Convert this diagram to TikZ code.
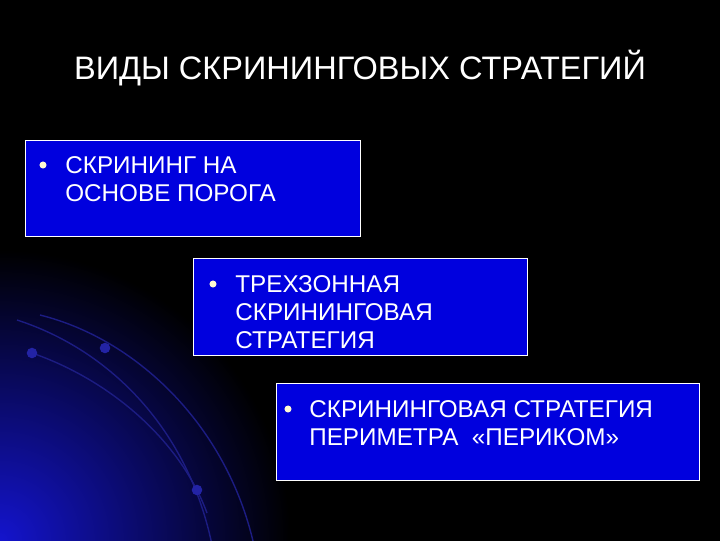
\documentclass[tikz,border=0pt]{standalone}
\usepackage{fontspec}
\setmainfont{Liberation Sans}
\definecolor{boxblue}{RGB}{0,0,222}
\definecolor{glowblue}{RGB}{20,20,205}
\definecolor{swirl}{RGB}{28,28,130}
\definecolor{swirldotcol}{RGB}{35,35,165}
\definecolor{dotcol}{RGB}{255,250,210}
\begin{document}
\begin{tikzpicture}[scale=0.2]
\tikzstyle{every node}+=[inner sep=0pt]
\tikzstyle{box}=[draw=white, line width=0.6pt, fill=boxblue, anchor=north west]
\tikzstyle{item}=[text=white, font=\fontsize{13.8}{15.9}\selectfont, align=left, anchor=base west]
\tikzstyle{bullet}=[circle, fill=dotcol, minimum size=4pt]
\tikzstyle{swirldot}=[circle, fill=swirldotcol, minimum size=6pt]
\useasboundingbox (0,0) rectangle (72,-54);
\fill [black] (-1,1) rectangle (73,-55);
% glow in the lower left corner
\begin{scope}
\clip (-1,1) rectangle (73,-55);
\fill [inner color=glowblue, outer color=black] (0,-54) circle (29);
\draw [swirl, line width=0.8pt] (4,-31.5) .. controls (14,-34) and (23,-43) .. (25.5,-55);
\draw [swirl, line width=0.8pt] (1.7,-32) .. controls (11,-35) and (19,-43) .. (21.3,-55);
\draw [swirl, line width=0.8pt] (3.2,-35.3) .. controls (11,-38) and (18,-44) .. (20.7,-51.3);
\end{scope}
\node [swirldot] (s1) at (3.2,-35.3) {};
\node [swirldot] (s2) at (10.5,-34.8) {};
\node [swirldot] (s3) at (19.7,-49) {};
% title
\node [text=white, font=\fontsize{18.5}{21}\selectfont, anchor=base] (title) at (36,-7.9) {ВИДЫ СКРИНИНГОВЫХ СТРАТЕГИЙ};
% boxes
\node [box, minimum width=6.7cm, minimum height=1.92cm] (porog) at (2.5,-14) {};
\node [bullet] (b1) at (4.3,-16.5) {};
\node [item] (t1) at (6.5,-20.1) {СКРИНИНГ НА\\ОСНОВЕ ПОРОГА};
\node [box, minimum width=6.68cm, minimum height=1.94cm] (trizone) at (19.3,-25.8) {};
\node [bullet] (b2) at (21.3,-28.4) {};
\node [item] (t2) at (23.5,-34.8) {ТРЕХЗОННАЯ\\СКРИНИНГОВАЯ\\СТРАТЕГИЯ};
\node [box, minimum width=8.46cm, minimum height=1.94cm] (perikom) at (27.6,-38.3) {};
\node [bullet] (b3) at (28.8,-40.9) {};
\node [item] (t3) at (30.9,-44.5) {СКРИНИНГОВАЯ СТРАТЕГИЯ\\ПЕРИМЕТРА~~«ПЕРИКОМ»};
\end{tikzpicture}
\end{document}
